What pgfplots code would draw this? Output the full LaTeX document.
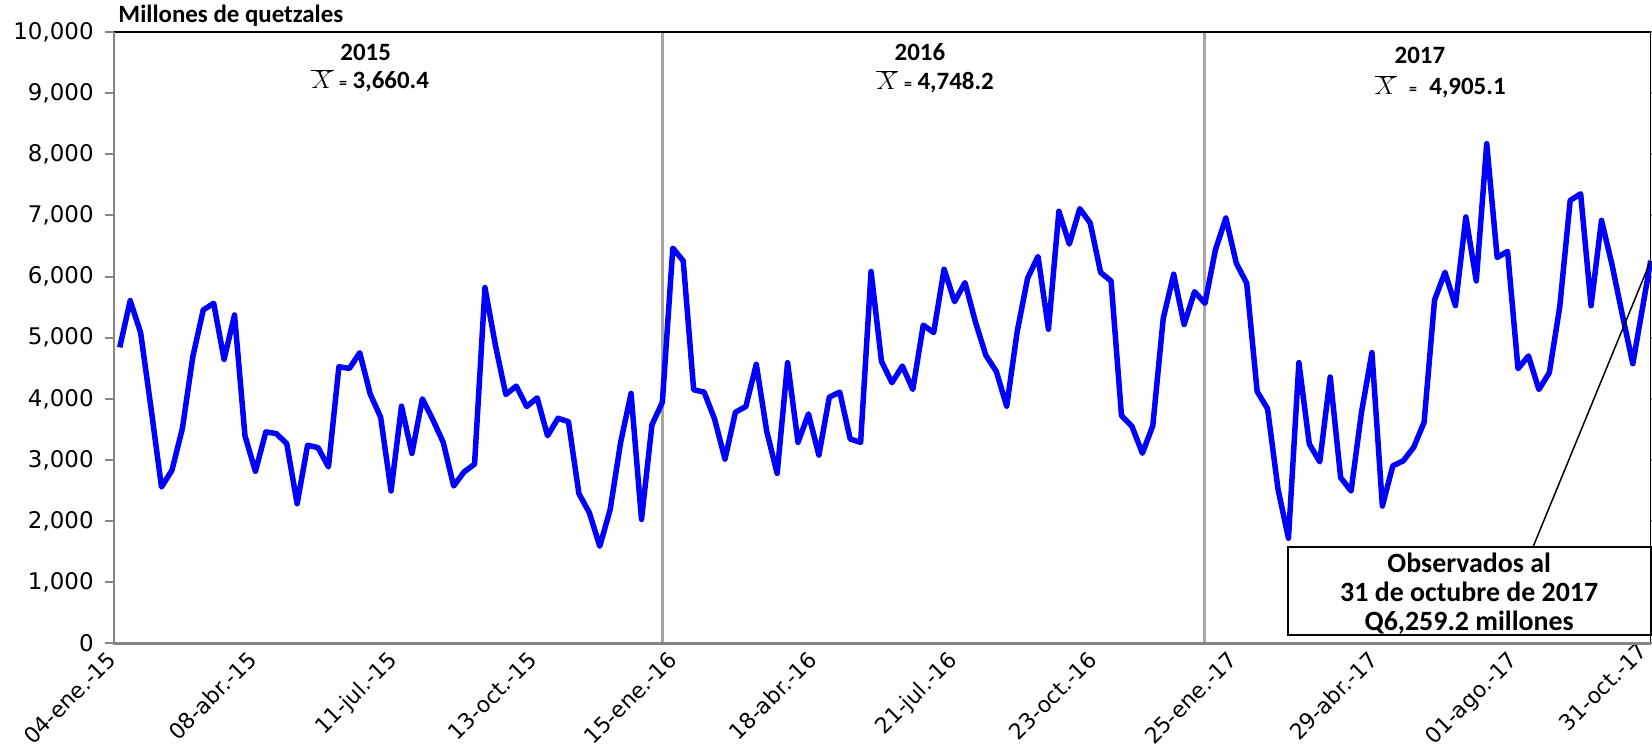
\documentclass[border=0pt]{standalone}
\usepackage{fontspec}
\setmainfont{Carlito}
\newfontfamily\tickfont{DejaVu Sans}
\usepackage{pgfplots}
\usepackage{pgfplotstable}
\pgfplotsset{compat=1.18}

\definecolor{serie}{RGB}{0,0,255}
\definecolor{eje}{RGB}{134,134,134}
\definecolor{sep}{RGB}{166,166,166}

% dias desde 04-ene-15, millones de quetzales
\pgfplotstableread{
dia valor
4 4842
11 5607
18 5082
25 3842
32 2558
39 2831
46 3514
53 4689
60 5454
67 5563
74 4645
81 5372
88 3394
95 2815
102 3459
109 3432
116 3268
123 2284
130 3241
137 3202
144 2886
151 4525
158 4497
165 4754
172 4080
179 3700
186 2493
193 3880
200 3107
207 4000
214 3660
221 3288
228 2575
235 2805
242 2932
249 5819
256 4876
263 4071
270 4208
277 3874
284 4016
291 3397
298 3682
305 3627
312 2450
319 2138
326 1589
333 2192
340 3288
347 4088
354 2028
361 3573
368 3946
375 6465
382 6256
389 4148
396 4110
403 3671
410 3014
417 3781
424 3874
431 4564
438 3469
445 2780
452 4592
459 3288
466 3754
473 3080
480 4028
487 4110
494 3343
501 3288
508 6082
515 4613
522 4263
529 4537
536 4153
543 5205
550 5085
557 6120
564 5589
571 5901
578 5260
585 4712
592 4449
599 3880
606 5096
613 5972
620 6329
627 5139
634 7068
641 6531
648 7111
655 6876
662 6066
669 5928
676 3726
683 3550
690 3110
697 3561
704 5315
711 6038
718 5216
725 5753
732 5561
739 6437
746 6958
753 6219
760 5890
767 4120
774 3836
781 2521
788 1720
795 4592
802 3260
809 2970
816 4357
823 2713
830 2493
837 3781
844 4756
851 2247
858 2904
865 2986
872 3206
879 3617
886 5616
893 6071
900 5523
907 6975
914 5928
921 8174
928 6312
935 6411
942 4493
949 4702
956 4153
963 4427
970 5507
977 7246
984 7353
991 5523
998 6920
1005 6200
1012 5370
1019 4575
1031 6259.2
}\datos

\begin{document}
\begin{tikzpicture}
\begin{axis}[
  scale only axis, width=1536.9bp, height=611.4bp,
  xmin=0, xmax=1031, ymin=0, ymax=10000,
  axis line style={draw=none},
  clip=false,
  xtick={0,94,188,282,376,470,564,658,752,846,940},
  xticklabels={04-ene.-15,08-abr.-15,11-jul.-15,13-oct.-15,15-ene.-16,18-abr.-16,
    21-jul.-16,23-oct.-16,25-ene.-17,29-abr.-17,01-ago.-17},
  extra x ticks={1031},
  extra x tick labels={31-oct.-17},
  extra x tick style={grid=none, major tick length=0pt,
    xticklabel style={xshift=-4bp, yshift=4bp}},
  ytick={0,1000,...,10000},
  scaled y ticks=false,
  tick align=outside,
  major tick length=9bp,
  xtick style={draw=none},
  ytick style={draw=eje, line width=2bp},
  yticklabel style={font=\tickfont\fontsize{23}{27}\selectfont, inner sep=0pt, xshift=-11bp},
  xticklabel style={font=\tickfont\fontsize{22}{26}\selectfont, rotate=45, anchor=north east,
    inner sep=0pt, xshift=-3.5bp, yshift=7.5bp},
  /pgf/number format/1000 sep={,},
  /pgf/number format/assume math mode=true,
]
  \draw[sep, line width=3bp] (axis cs:368,0) -- (axis cs:368,10000);
  \draw[sep, line width=3bp] (axis cs:732,0) -- (axis cs:732,10000);
  \draw[black, line width=1.5bp] (rel axis cs:0,1) -- (rel axis cs:1,1) -- (rel axis cs:1,0);
  \draw[eje, line width=2.5bp] (rel axis cs:0,1) -- (rel axis cs:0,0) -- (rel axis cs:1,0);

  \addplot[serie, line width=5.5bp, line join=round, no markers] table[x=dia, y=valor] {\datos};

  \draw[black, line width=1.5bp] (axis cs:952,1573) -- (axis cs:1031,6259.2);
  \draw[black, line width=2bp, fill=white] (axis cs:787.5,133) rectangle (axis cs:1031,1573);
  \node[font=\bfseries\fontsize{28}{29}\selectfont, align=center]
    at (axis cs:909.25,810) {Observados al\\31 de octubre de 2017\\Q6,259.2 millones};

  \node[font=\bfseries\fontsize{25}{30}\selectfont] at (axis cs:169,9670) {2015};
  \node[font=\bfseries\fontsize{25}{30}\selectfont] at (axis cs:172,9210)
    {{\fontsize{24}{28}\selectfont$\overline{X}$} {\fontsize{16}{20}\selectfont=} 3,660.4};
  \node[font=\bfseries\fontsize{25}{30}\selectfont] at (axis cs:540.8,9670) {2016};
  \node[font=\bfseries\fontsize{25}{30}\selectfont] at (axis cs:550.9,9194)
    {{\fontsize{24}{28}\selectfont$\overline{X}$} {\fontsize{16}{20}\selectfont=} 4,748.2};
  \node[font=\bfseries\fontsize{25}{30}\selectfont] at (axis cs:876.2,9620) {2017};
  \node[font=\bfseries\fontsize{25}{30}\selectfont] at (axis cs:889.7,9103)
    {{\fontsize{24}{28}\selectfont$\overline{X}$}\enspace{\fontsize{16}{20}\selectfont=}\enspace 4,905.1};

  \node[anchor=base west, font=\bfseries\fontsize{25}{30}\selectfont, inner sep=0pt]
    at ([xshift=4.5bp, yshift=9bp]rel axis cs:0,1) {Millones de quetzales};
\end{axis}
\pgfresetboundingbox
\path[use as bounding box] (-113.8bp,-107.6bp) rectangle (1538.2bp,643.4bp);
\end{tikzpicture}
\end{document}
